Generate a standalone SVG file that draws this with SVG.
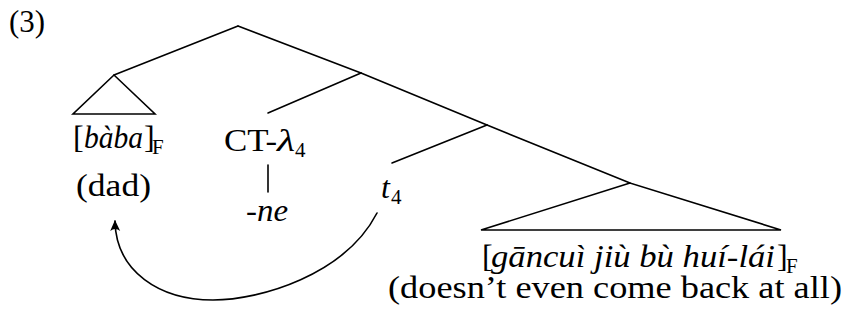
<svg xmlns="http://www.w3.org/2000/svg" width="845" height="325" viewBox="0 0 845 325">
<style>
text{font-family:"Liberation Serif","Times New Roman","DejaVu Serif",serif;font-size:32px;fill:#000}
.it{font-style:italic}
.sub{font-size:21px}
.ln{stroke:#000;stroke-width:1.6;fill:none;stroke-linecap:round;stroke-linejoin:miter}
</style>
<defs>
<marker id="arr" viewBox="-12 -7 14 14" markerWidth="14" markerHeight="14" refX="0" refY="0" orient="auto" markerUnits="userSpaceOnUse">
<path d="M1,0 L-10,-5 Q-6,0 -10,5 Z" fill="#000"/>
</marker>
</defs>
<g id="label">
<text x="9" y="32" font-size="34" textLength="36" lengthAdjust="spacingAndGlyphs">(3)</text>
</g>
<g id="connectors">
<line class="ln" x1="238" y1="26" x2="114" y2="75"/>
<line class="ln" x1="238" y1="26" x2="361" y2="73"/>
<line class="ln" x1="361" y1="73" x2="487" y2="125"/>
<line class="ln" x1="487" y1="125" x2="630" y2="183"/>
<line class="ln" x1="361" y1="73" x2="268" y2="113"/>
<line class="ln" x1="487" y1="125" x2="392" y2="163"/>
<line class="ln" x1="268" y1="165" x2="268" y2="192"/>
<path class="ln" d="M377,213 C345,275 260,300 213,300 C160,300 116,272 115,221" marker-end="url(#arr)"/>
</g>
<g id="baba">
<polygon class="ln" points="114,75 73,114 155,114"/>
<text y="148"><tspan x="73">[</tspan><tspan class="it" x="84" textLength="59" lengthAdjust="spacingAndGlyphs">bàba</tspan><tspan x="144">]</tspan><tspan class="sub" x="152" y="154">F</tspan></text>
<text x="76" y="196" textLength="75" lengthAdjust="spacingAndGlyphs">(dad)</text>
</g>
<g id="ct">
<text y="151"><tspan x="224" textLength="53" lengthAdjust="spacingAndGlyphs">CT-</tspan><tspan class="it" x="277" textLength="18" lengthAdjust="spacingAndGlyphs">λ</tspan><tspan class="sub" x="295" y="157">4</tspan></text>
</g>
<g id="ne">
<text class="it" x="246" y="221" textLength="42" lengthAdjust="spacingAndGlyphs">-ne</text>
</g>
<g id="t4">
<text y="198"><tspan class="it" x="381">t</tspan><tspan class="sub" x="391" y="204">4</tspan></text>
</g>
<g id="vp">
<polygon class="ln" points="630,183 481,230 781,230"/>
<text y="267"><tspan x="482">[</tspan><tspan class="it" x="491" textLength="284" lengthAdjust="spacingAndGlyphs">gāncuì jiù bù huí-lái</tspan><tspan x="777">]</tspan><tspan class="sub" x="786" y="273">F</tspan></text>
<text x="388" y="298" textLength="454" lengthAdjust="spacingAndGlyphs">(doesn’t even come back at all)</text>
</g>
</svg>
